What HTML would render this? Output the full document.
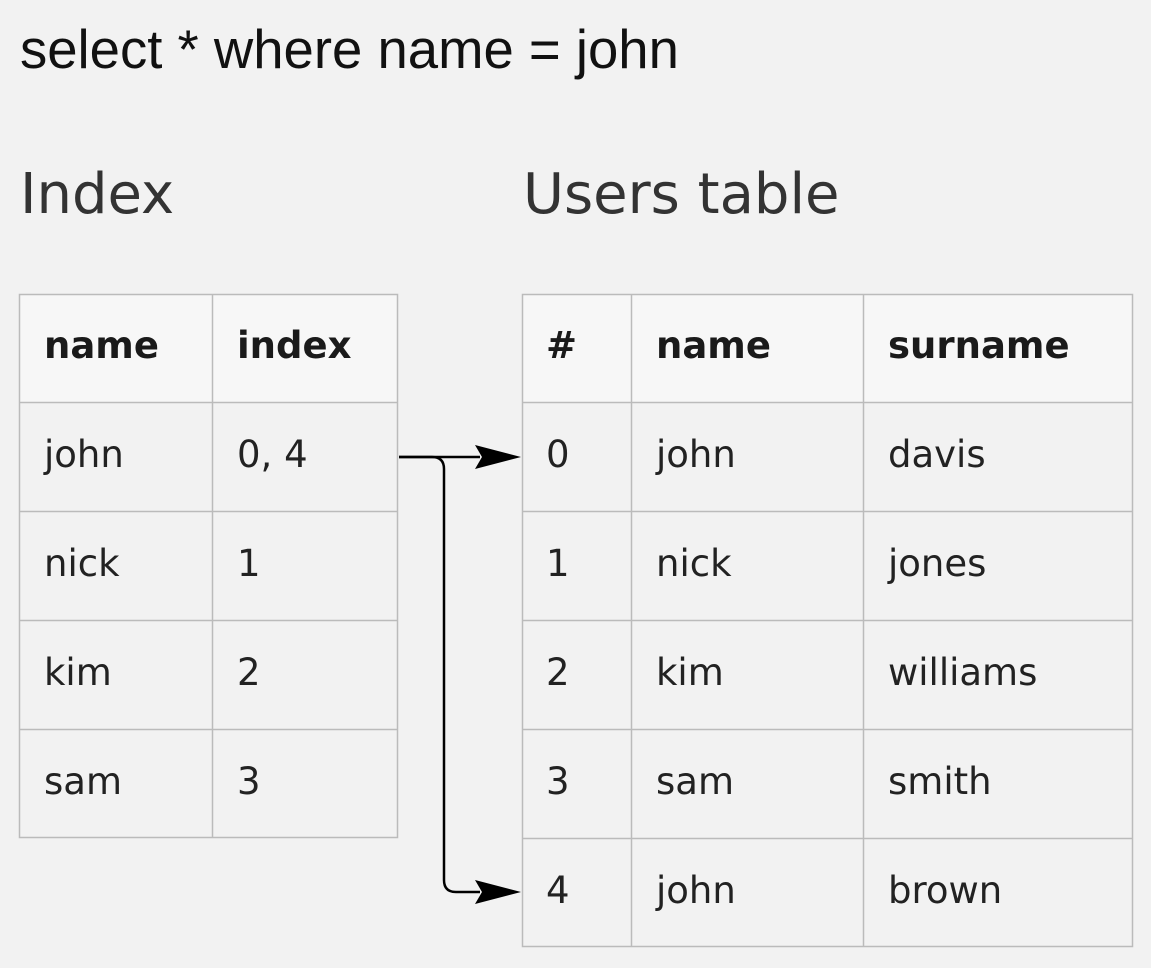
<!DOCTYPE html>
<html><head><meta charset="utf-8"><style>
html,body{margin:0;padding:0;background:#f2f2f2;}
svg{display:block}
.c{font-family:"DejaVu Sans",sans-serif;font-size:37px;fill:#222}
.h{font-family:"DejaVu Sans",sans-serif;font-size:37px;font-weight:bold;fill:#1a1a1a}
.t{font-family:"DejaVu Sans",sans-serif;font-size:56px;fill:#333}
</style></head><body>
<svg width="1151" height="968" viewBox="0 0 1151 968" xmlns="http://www.w3.org/2000/svg">
<rect width="1151" height="968" fill="#f2f2f2"/>
<text x="20" y="68" font-family="Liberation Sans, Arial, sans-serif" font-size="54.5" fill="#111">select * where name = john</text>
<text class="t" x="20" y="213">Index</text>
<text class="t" x="523" y="213">Users table</text>
<rect x="19.5" y="294.5" width="378" height="108" fill="#f7f7f7"/>
<rect x="522.5" y="294.5" width="610" height="108" fill="#f7f7f7"/>
<g stroke="#bbb" stroke-width="1.5" fill="none">
<rect x="19.5" y="294.5" width="378" height="543"/>
<line x1="212.5" y1="294" x2="212.5" y2="838"/>
<line x1="19" y1="402.5" x2="398" y2="402.5"/>
<line x1="19" y1="511.5" x2="398" y2="511.5"/>
<line x1="19" y1="620.5" x2="398" y2="620.5"/>
<line x1="19" y1="729.5" x2="398" y2="729.5"/>
<rect x="522.5" y="294.5" width="610" height="652"/>
<line x1="631.5" y1="294" x2="631.5" y2="947"/>
<line x1="863.5" y1="294" x2="863.5" y2="947"/>
<line x1="522" y1="402.5" x2="1133" y2="402.5"/>
<line x1="522" y1="511.5" x2="1133" y2="511.5"/>
<line x1="522" y1="620.5" x2="1133" y2="620.5"/>
<line x1="522" y1="729.5" x2="1133" y2="729.5"/>
<line x1="522" y1="838.5" x2="1133" y2="838.5"/>
</g>
<text class="h" x="44" y="358">name</text><text class="h" x="237" y="358">index</text>
<text class="c" x="44" y="467">john</text><text class="c" x="237" y="467">0, 4</text>
<text class="c" x="44" y="576">nick</text><text class="c" x="237" y="576">1</text>
<text class="c" x="44" y="685">kim</text><text class="c" x="237" y="685">2</text>
<text class="c" x="44" y="794">sam</text><text class="c" x="237" y="794">3</text>

<text class="h" x="546" y="358">#</text><text class="h" x="656" y="358">name</text><text class="h" x="888" y="358">surname</text>
<text class="c" x="546" y="467">0</text><text class="c" x="656" y="467">john</text><text class="c" x="888" y="467">davis</text>
<text class="c" x="546" y="576">1</text><text class="c" x="656" y="576">nick</text><text class="c" x="888" y="576">jones</text>
<text class="c" x="546" y="685">2</text><text class="c" x="656" y="685">kim</text><text class="c" x="888" y="685">williams</text>
<text class="c" x="546" y="794">3</text><text class="c" x="656" y="794">sam</text><text class="c" x="888" y="794">smith</text>
<text class="c" x="546" y="903">4</text><text class="c" x="656" y="903">john</text><text class="c" x="888" y="903">brown</text>

<g stroke="#000" stroke-width="2.5" fill="none">
<line x1="399" y1="457" x2="480" y2="457"/>
<path d="M399 457 H432 Q444 457 444 469 V880 Q444 892 456 892 H480"/>
</g>
<polygon points="521,457 475,445 482,457 475,469" fill="#000"/>
<polygon points="521,892 475,880 482,892 475,904" fill="#000"/>
</svg>
</body></html>
